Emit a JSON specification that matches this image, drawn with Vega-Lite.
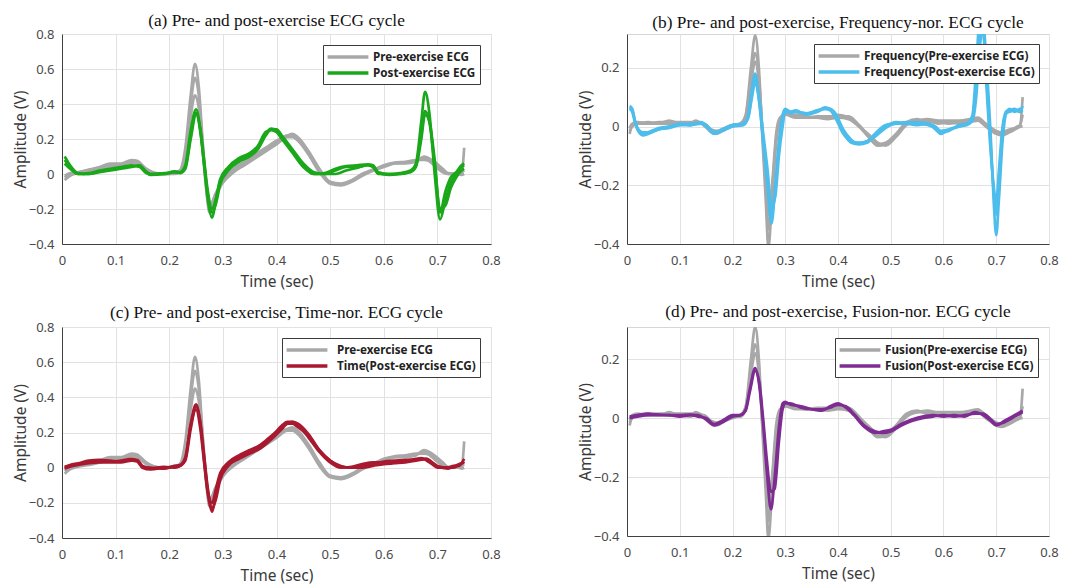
{
"$schema": "https://vega.github.io/schema/vega-lite/v6.json",
"background": "white",
"padding": {"left": 12, "top": 11, "right": 5, "bottom": 0},
"config": {
  "view": {"stroke": "#d6d6d6"},
  "axis": {"labelFont": "Noto Sans", "labelFontSize": 13, "labelColor": "#4a4a4a", "titleFont": "Noto Sans", "titleFontSize": 15.5, "titleFontWeight": "normal", "titleColor": "#3a3a3a", "gridColor": "#e2e2e2", "domainColor": "#404040", "ticks": false, "labelFlush": false},
  "axisX": {"labelPadding": 10, "titlePadding": 7},
  "axisY": {"labelPadding": 8, "titlePadding": 0},
  "title": {"font": "Liberation Serif", "fontSize": 17.3, "fontWeight": "normal", "color": "#111111", "anchor": "middle", "frame": "group", "offset": 0.5},
  "legend": {"orient": "top-right", "offset": 11, "fillColor": "white", "strokeColor": "#3a3a3a", "padding": 4, "rowPadding": 1, "symbolType": "M-3.4,0H3.4", "symbolSize": 144, "symbolStrokeWidth": 3.5, "symbolOffset": 13, "labelOffset": 17, "labelFont": "Noto Sans", "labelFontWeight": "bold", "labelFontSize": 11.7, "labelColor": "#222222", "labelLimit": 400}
},
"datasets": {
"preAC": [
{"k":1,"t":0.005,"v":-0.035},{"k":1,"t":0.015,"v":-0.01},{"k":1,"t":0.03,"v":0.005},{"k":1,"t":0.05,"v":0.015},{"k":1,"t":0.07,"v":0.03},{"k":1,"t":0.09,"v":0.05},{"k":1,"t":0.11,"v":0.055},{"k":1,"t":0.13,"v":0.075},{"k":1,"t":0.14,"v":0.07},{"k":1,"t":0.155,"v":0.03},
{"k":1,"t":0.17,"v":0.005},{"k":1,"t":0.19,"v":0.0},{"k":1,"t":0.21,"v":0.005},{"k":1,"t":0.22,"v":0.02},{"k":1,"t":0.23,"v":0.15},{"k":1,"t":0.24,"v":0.45},{"k":1,"t":0.248,"v":0.63},{"k":1,"t":0.255,"v":0.5},{"k":1,"t":0.262,"v":0.2},{"k":1,"t":0.27,"v":-0.1},
{"k":1,"t":0.275,"v":-0.2},{"k":1,"t":0.285,"v":-0.12},{"k":1,"t":0.3,"v":-0.04},{"k":1,"t":0.32,"v":0.02},{"k":1,"t":0.34,"v":0.06},{"k":1,"t":0.36,"v":0.1},{"k":1,"t":0.38,"v":0.14},{"k":1,"t":0.4,"v":0.18},{"k":1,"t":0.42,"v":0.22},{"k":1,"t":0.43,"v":0.22},
{"k":1,"t":0.44,"v":0.2},{"k":1,"t":0.46,"v":0.12},{"k":1,"t":0.48,"v":0.02},{"k":1,"t":0.5,"v":-0.05},{"k":1,"t":0.52,"v":-0.06},{"k":1,"t":0.54,"v":-0.04},{"k":1,"t":0.56,"v":0.0},{"k":1,"t":0.58,"v":0.02},{"k":1,"t":0.6,"v":0.04},{"k":1,"t":0.62,"v":0.06},
{"k":1,"t":0.64,"v":0.065},{"k":1,"t":0.66,"v":0.075},{"k":1,"t":0.675,"v":0.09},{"k":1,"t":0.69,"v":0.06},{"k":1,"t":0.71,"v":0.01},{"k":1,"t":0.72,"v":0.0},{"k":1,"t":0.74,"v":0.0},{"k":1,"t":0.745,"v":0.0},{"k":1,"t":0.75,"v":0.15},
{"k":2,"t":0.005,"v":-0.02},{"k":2,"t":0.015,"v":0.0},{"k":2,"t":0.03,"v":0.01},{"k":2,"t":0.05,"v":0.02},{"k":2,"t":0.07,"v":0.03},{"k":2,"t":0.09,"v":0.04},{"k":2,"t":0.11,"v":0.05},{"k":2,"t":0.13,"v":0.065},{"k":2,"t":0.14,"v":0.06},{"k":2,"t":0.155,"v":0.025},
{"k":2,"t":0.17,"v":0.0},{"k":2,"t":0.19,"v":0.0},{"k":2,"t":0.21,"v":0.01},{"k":2,"t":0.22,"v":0.02},{"k":2,"t":0.23,"v":0.12},{"k":2,"t":0.24,"v":0.4},{"k":2,"t":0.248,"v":0.55},{"k":2,"t":0.255,"v":0.45},{"k":2,"t":0.262,"v":0.18},{"k":2,"t":0.27,"v":-0.08},
{"k":2,"t":0.275,"v":-0.18},{"k":2,"t":0.285,"v":-0.13},{"k":2,"t":0.3,"v":-0.05},{"k":2,"t":0.32,"v":0.01},{"k":2,"t":0.34,"v":0.05},{"k":2,"t":0.36,"v":0.09},{"k":2,"t":0.38,"v":0.13},{"k":2,"t":0.4,"v":0.17},{"k":2,"t":0.42,"v":0.21},{"k":2,"t":0.43,"v":0.21},
{"k":2,"t":0.44,"v":0.19},{"k":2,"t":0.46,"v":0.11},{"k":2,"t":0.48,"v":0.01},{"k":2,"t":0.5,"v":-0.055},{"k":2,"t":0.52,"v":-0.065},{"k":2,"t":0.54,"v":-0.045},{"k":2,"t":0.56,"v":-0.01},{"k":2,"t":0.58,"v":0.02},{"k":2,"t":0.6,"v":0.05},{"k":2,"t":0.62,"v":0.065},
{"k":2,"t":0.64,"v":0.07},{"k":2,"t":0.66,"v":0.08},{"k":2,"t":0.675,"v":0.08},{"k":2,"t":0.69,"v":0.07},{"k":2,"t":0.71,"v":0.02},{"k":2,"t":0.72,"v":0.0},{"k":2,"t":0.74,"v":0.005},{"k":2,"t":0.745,"v":0.01},{"k":2,"t":0.75,"v":0.02},
{"k":3,"t":0.005,"v":-0.01},{"k":3,"t":0.015,"v":0.005},{"k":3,"t":0.03,"v":0.01},{"k":3,"t":0.05,"v":0.025},{"k":3,"t":0.07,"v":0.04},{"k":3,"t":0.09,"v":0.06},{"k":3,"t":0.11,"v":0.06},{"k":3,"t":0.13,"v":0.08},{"k":3,"t":0.14,"v":0.075},{"k":3,"t":0.155,"v":0.035},
{"k":3,"t":0.17,"v":0.01},{"k":3,"t":0.19,"v":0.0},{"k":3,"t":0.21,"v":0.0},{"k":3,"t":0.22,"v":0.015},{"k":3,"t":0.23,"v":0.1},{"k":3,"t":0.24,"v":0.33},{"k":3,"t":0.248,"v":0.45},{"k":3,"t":0.255,"v":0.38},{"k":3,"t":0.262,"v":0.15},{"k":3,"t":0.27,"v":-0.12},
{"k":3,"t":0.275,"v":-0.22},{"k":3,"t":0.285,"v":-0.15},{"k":3,"t":0.3,"v":-0.03},{"k":3,"t":0.32,"v":0.03},{"k":3,"t":0.34,"v":0.07},{"k":3,"t":0.36,"v":0.11},{"k":3,"t":0.38,"v":0.15},{"k":3,"t":0.4,"v":0.19},{"k":3,"t":0.42,"v":0.22},{"k":3,"t":0.43,"v":0.23},
{"k":3,"t":0.44,"v":0.21},{"k":3,"t":0.46,"v":0.13},{"k":3,"t":0.48,"v":0.03},{"k":3,"t":0.5,"v":-0.045},{"k":3,"t":0.52,"v":-0.055},{"k":3,"t":0.54,"v":-0.035},{"k":3,"t":0.56,"v":0.0},{"k":3,"t":0.58,"v":0.025},{"k":3,"t":0.6,"v":0.045},{"k":3,"t":0.62,"v":0.06},
{"k":3,"t":0.64,"v":0.06},{"k":3,"t":0.66,"v":0.07},{"k":3,"t":0.675,"v":0.1},{"k":3,"t":0.69,"v":0.08},{"k":3,"t":0.71,"v":0.03},{"k":3,"t":0.72,"v":0.005},{"k":3,"t":0.74,"v":0.0},{"k":3,"t":0.745,"v":-0.005},{"k":3,"t":0.75,"v":0.0}
],
"postA": [
{"k":1,"t":0.005,"v":0.1},{"k":1,"t":0.015,"v":0.05},{"k":1,"t":0.03,"v":0.005},{"k":1,"t":0.05,"v":0.0},{"k":1,"t":0.07,"v":0.01},{"k":1,"t":0.09,"v":0.02},{"k":1,"t":0.11,"v":0.03},{"k":1,"t":0.13,"v":0.04},{"k":1,"t":0.145,"v":0.05},{"k":1,"t":0.155,"v":0.02},
{"k":1,"t":0.165,"v":0.0},{"k":1,"t":0.19,"v":0.0},{"k":1,"t":0.21,"v":0.01},{"k":1,"t":0.22,"v":0.01},{"k":1,"t":0.23,"v":0.05},{"k":1,"t":0.24,"v":0.25},{"k":1,"t":0.25,"v":0.37},{"k":1,"t":0.258,"v":0.25},{"k":1,"t":0.265,"v":0.05},{"k":1,"t":0.272,"v":-0.15},
{"k":1,"t":0.28,"v":-0.25},{"k":1,"t":0.287,"v":-0.15},{"k":1,"t":0.295,"v":-0.04},{"k":1,"t":0.31,"v":0.03},{"k":1,"t":0.33,"v":0.08},{"k":1,"t":0.35,"v":0.11},{"k":1,"t":0.365,"v":0.15},{"k":1,"t":0.38,"v":0.23},{"k":1,"t":0.39,"v":0.26},{"k":1,"t":0.4,"v":0.25},
{"k":1,"t":0.41,"v":0.21},{"k":1,"t":0.43,"v":0.13},{"k":1,"t":0.45,"v":0.05},{"k":1,"t":0.47,"v":0.0},{"k":1,"t":0.49,"v":0.0},{"k":1,"t":0.51,"v":0.02},{"k":1,"t":0.53,"v":0.04},{"k":1,"t":0.55,"v":0.04},{"k":1,"t":0.57,"v":0.05},{"k":1,"t":0.58,"v":0.04},
{"k":1,"t":0.59,"v":0.0},{"k":1,"t":0.61,"v":0.0},{"k":1,"t":0.63,"v":0.005},{"k":1,"t":0.65,"v":0.02},{"k":1,"t":0.66,"v":0.06},{"k":1,"t":0.67,"v":0.3},{"k":1,"t":0.677,"v":0.47},{"k":1,"t":0.685,"v":0.35},{"k":1,"t":0.695,"v":0.0},{"k":1,"t":0.705,"v":-0.26},
{"k":1,"t":0.715,"v":-0.15},{"k":1,"t":0.725,"v":-0.05},{"k":1,"t":0.735,"v":0.0},{"k":1,"t":0.745,"v":0.04},{"k":1,"t":0.75,"v":0.05},
{"k":2,"t":0.005,"v":0.08},{"k":2,"t":0.015,"v":0.04},{"k":2,"t":0.03,"v":0.0},{"k":2,"t":0.05,"v":0.0},{"k":2,"t":0.07,"v":0.015},{"k":2,"t":0.09,"v":0.025},{"k":2,"t":0.11,"v":0.035},{"k":2,"t":0.13,"v":0.045},{"k":2,"t":0.145,"v":0.045},{"k":2,"t":0.155,"v":0.015},
{"k":2,"t":0.165,"v":-0.005},{"k":2,"t":0.19,"v":0.0},{"k":2,"t":0.21,"v":0.015},{"k":2,"t":0.22,"v":0.01},{"k":2,"t":0.23,"v":0.04},{"k":2,"t":0.24,"v":0.22},{"k":2,"t":0.25,"v":0.35},{"k":2,"t":0.258,"v":0.24},{"k":2,"t":0.265,"v":0.06},{"k":2,"t":0.272,"v":-0.12},
{"k":2,"t":0.28,"v":-0.22},{"k":2,"t":0.287,"v":-0.17},{"k":2,"t":0.295,"v":-0.06},{"k":2,"t":0.31,"v":0.02},{"k":2,"t":0.33,"v":0.07},{"k":2,"t":0.35,"v":0.1},{"k":2,"t":0.365,"v":0.14},{"k":2,"t":0.38,"v":0.22},{"k":2,"t":0.39,"v":0.255},{"k":2,"t":0.4,"v":0.255},
{"k":2,"t":0.41,"v":0.22},{"k":2,"t":0.43,"v":0.14},{"k":2,"t":0.45,"v":0.06},{"k":2,"t":0.47,"v":0.01},{"k":2,"t":0.49,"v":0.0},{"k":2,"t":0.51,"v":0.0},{"k":2,"t":0.53,"v":0.02},{"k":2,"t":0.55,"v":0.035},{"k":2,"t":0.57,"v":0.05},{"k":2,"t":0.58,"v":0.045},
{"k":2,"t":0.59,"v":0.01},{"k":2,"t":0.61,"v":0.0},{"k":2,"t":0.63,"v":0.0},{"k":2,"t":0.65,"v":0.015},{"k":2,"t":0.66,"v":0.05},{"k":2,"t":0.67,"v":0.22},{"k":2,"t":0.677,"v":0.36},{"k":2,"t":0.685,"v":0.3},{"k":2,"t":0.695,"v":0.05},{"k":2,"t":0.705,"v":-0.2},
{"k":2,"t":0.715,"v":-0.18},{"k":2,"t":0.725,"v":-0.08},{"k":2,"t":0.735,"v":-0.02},{"k":2,"t":0.745,"v":0.02},{"k":2,"t":0.75,"v":0.03},
{"k":3,"t":0.005,"v":0.06},{"k":3,"t":0.015,"v":0.03},{"k":3,"t":0.03,"v":0.0},{"k":3,"t":0.05,"v":0.005},{"k":3,"t":0.07,"v":0.02},{"k":3,"t":0.09,"v":0.03},{"k":3,"t":0.11,"v":0.04},{"k":3,"t":0.13,"v":0.05},{"k":3,"t":0.145,"v":0.04},{"k":3,"t":0.155,"v":0.01},
{"k":3,"t":0.165,"v":0.0},{"k":3,"t":0.19,"v":0.005},{"k":3,"t":0.21,"v":0.01},{"k":3,"t":0.22,"v":0.005},{"k":3,"t":0.23,"v":0.03},{"k":3,"t":0.24,"v":0.2},{"k":3,"t":0.25,"v":0.34},{"k":3,"t":0.258,"v":0.26},{"k":3,"t":0.265,"v":0.08},{"k":3,"t":0.272,"v":-0.1},
{"k":3,"t":0.28,"v":-0.2},{"k":3,"t":0.287,"v":-0.14},{"k":3,"t":0.295,"v":-0.03},{"k":3,"t":0.31,"v":0.04},{"k":3,"t":0.33,"v":0.09},{"k":3,"t":0.35,"v":0.12},{"k":3,"t":0.365,"v":0.16},{"k":3,"t":0.38,"v":0.24},{"k":3,"t":0.39,"v":0.25},{"k":3,"t":0.4,"v":0.24},
{"k":3,"t":0.41,"v":0.2},{"k":3,"t":0.43,"v":0.12},{"k":3,"t":0.45,"v":0.04},{"k":3,"t":0.47,"v":0.0},{"k":3,"t":0.49,"v":0.005},{"k":3,"t":0.51,"v":0.03},{"k":3,"t":0.53,"v":0.045},{"k":3,"t":0.55,"v":0.05},{"k":3,"t":0.57,"v":0.055},{"k":3,"t":0.58,"v":0.05},
{"k":3,"t":0.59,"v":0.005},{"k":3,"t":0.61,"v":-0.005},{"k":3,"t":0.63,"v":0.0},{"k":3,"t":0.65,"v":0.01},{"k":3,"t":0.66,"v":0.04},{"k":3,"t":0.67,"v":0.2},{"k":3,"t":0.677,"v":0.34},{"k":3,"t":0.685,"v":0.3},{"k":3,"t":0.695,"v":0.08},{"k":3,"t":0.705,"v":-0.22},
{"k":3,"t":0.715,"v":-0.1},{"k":3,"t":0.725,"v":-0.02},{"k":3,"t":0.735,"v":0.01},{"k":3,"t":0.745,"v":0.05},{"k":3,"t":0.75,"v":0.06}
],
"postC": [
{"k":1,"t":0.005,"v":0.0},{"k":1,"t":0.015,"v":0.01},{"k":1,"t":0.03,"v":0.02},{"k":1,"t":0.05,"v":0.03},{"k":1,"t":0.07,"v":0.04},{"k":1,"t":0.09,"v":0.035},{"k":1,"t":0.11,"v":0.04},{"k":1,"t":0.13,"v":0.05},{"k":1,"t":0.14,"v":0.04},{"k":1,"t":0.15,"v":0.0},
{"k":1,"t":0.165,"v":-0.01},{"k":1,"t":0.19,"v":0.0},{"k":1,"t":0.21,"v":0.005},{"k":1,"t":0.22,"v":0.01},{"k":1,"t":0.23,"v":0.05},{"k":1,"t":0.24,"v":0.25},{"k":1,"t":0.25,"v":0.36},{"k":1,"t":0.258,"v":0.25},{"k":1,"t":0.265,"v":0.05},{"k":1,"t":0.272,"v":-0.15},
{"k":1,"t":0.28,"v":-0.25},{"k":1,"t":0.287,"v":-0.15},{"k":1,"t":0.295,"v":-0.05},{"k":1,"t":0.31,"v":0.02},{"k":1,"t":0.33,"v":0.06},{"k":1,"t":0.35,"v":0.09},{"k":1,"t":0.37,"v":0.12},{"k":1,"t":0.39,"v":0.17},{"k":1,"t":0.41,"v":0.24},{"k":1,"t":0.42,"v":0.26},
{"k":1,"t":0.43,"v":0.26},{"k":1,"t":0.44,"v":0.24},{"k":1,"t":0.46,"v":0.17},{"k":1,"t":0.48,"v":0.09},{"k":1,"t":0.5,"v":0.03},{"k":1,"t":0.52,"v":0.0},{"k":1,"t":0.54,"v":0.005},{"k":1,"t":0.56,"v":0.02},{"k":1,"t":0.58,"v":0.03},{"k":1,"t":0.6,"v":0.03},
{"k":1,"t":0.62,"v":0.035},{"k":1,"t":0.64,"v":0.04},{"k":1,"t":0.66,"v":0.05},{"k":1,"t":0.67,"v":0.055},{"k":1,"t":0.68,"v":0.04},{"k":1,"t":0.69,"v":0.02},{"k":1,"t":0.7,"v":0.0},{"k":1,"t":0.72,"v":0.0},{"k":1,"t":0.73,"v":0.01},{"k":1,"t":0.74,"v":0.01},
{"k":1,"t":0.75,"v":0.05},
{"k":2,"t":0.005,"v":0.005},{"k":2,"t":0.015,"v":0.015},{"k":2,"t":0.03,"v":0.025},{"k":2,"t":0.05,"v":0.04},{"k":2,"t":0.07,"v":0.045},{"k":2,"t":0.09,"v":0.04},{"k":2,"t":0.11,"v":0.035},{"k":2,"t":0.13,"v":0.045},{"k":2,"t":0.14,"v":0.045},{"k":2,"t":0.15,"v":0.01},
{"k":2,"t":0.165,"v":-0.005},{"k":2,"t":0.19,"v":0.005},{"k":2,"t":0.21,"v":0.0},{"k":2,"t":0.22,"v":0.01},{"k":2,"t":0.23,"v":0.04},{"k":2,"t":0.24,"v":0.22},{"k":2,"t":0.25,"v":0.35},{"k":2,"t":0.258,"v":0.26},{"k":2,"t":0.265,"v":0.07},{"k":2,"t":0.272,"v":-0.12},
{"k":2,"t":0.28,"v":-0.23},{"k":2,"t":0.287,"v":-0.18},{"k":2,"t":0.295,"v":-0.07},{"k":2,"t":0.31,"v":0.01},{"k":2,"t":0.33,"v":0.05},{"k":2,"t":0.35,"v":0.08},{"k":2,"t":0.37,"v":0.11},{"k":2,"t":0.39,"v":0.16},{"k":2,"t":0.41,"v":0.22},{"k":2,"t":0.42,"v":0.25},
{"k":2,"t":0.43,"v":0.25},{"k":2,"t":0.44,"v":0.23},{"k":2,"t":0.46,"v":0.18},{"k":2,"t":0.48,"v":0.1},{"k":2,"t":0.5,"v":0.04},{"k":2,"t":0.52,"v":0.005},{"k":2,"t":0.54,"v":0.0},{"k":2,"t":0.56,"v":0.01},{"k":2,"t":0.58,"v":0.02},{"k":2,"t":0.6,"v":0.035},
{"k":2,"t":0.62,"v":0.04},{"k":2,"t":0.64,"v":0.045},{"k":2,"t":0.66,"v":0.045},{"k":2,"t":0.67,"v":0.05},{"k":2,"t":0.68,"v":0.05},{"k":2,"t":0.69,"v":0.03},{"k":2,"t":0.7,"v":0.005},{"k":2,"t":0.72,"v":-0.005},{"k":2,"t":0.73,"v":0.005},{"k":2,"t":0.74,"v":0.02},
{"k":2,"t":0.75,"v":0.03},
{"k":3,"t":0.005,"v":-0.005},{"k":3,"t":0.015,"v":0.005},{"k":3,"t":0.03,"v":0.015},{"k":3,"t":0.05,"v":0.025},{"k":3,"t":0.07,"v":0.03},{"k":3,"t":0.09,"v":0.03},{"k":3,"t":0.11,"v":0.03},{"k":3,"t":0.13,"v":0.04},{"k":3,"t":0.14,"v":0.035},{"k":3,"t":0.15,"v":0.005},
{"k":3,"t":0.165,"v":0.0},{"k":3,"t":0.19,"v":-0.005},{"k":3,"t":0.21,"v":0.01},{"k":3,"t":0.22,"v":0.015},{"k":3,"t":0.23,"v":0.06},{"k":3,"t":0.24,"v":0.24},{"k":3,"t":0.25,"v":0.33},{"k":3,"t":0.258,"v":0.22},{"k":3,"t":0.265,"v":0.03},{"k":3,"t":0.272,"v":-0.14},
{"k":3,"t":0.28,"v":-0.2},{"k":3,"t":0.287,"v":-0.12},{"k":3,"t":0.295,"v":-0.03},{"k":3,"t":0.31,"v":0.03},{"k":3,"t":0.33,"v":0.07},{"k":3,"t":0.35,"v":0.1},{"k":3,"t":0.37,"v":0.13},{"k":3,"t":0.39,"v":0.18},{"k":3,"t":0.41,"v":0.23},{"k":3,"t":0.42,"v":0.25},
{"k":3,"t":0.43,"v":0.26},{"k":3,"t":0.44,"v":0.25},{"k":3,"t":0.46,"v":0.19},{"k":3,"t":0.48,"v":0.1},{"k":3,"t":0.5,"v":0.04},{"k":3,"t":0.52,"v":0.01},{"k":3,"t":0.54,"v":0.0},{"k":3,"t":0.56,"v":0.0},{"k":3,"t":0.58,"v":0.01},{"k":3,"t":0.6,"v":0.02},
{"k":3,"t":0.62,"v":0.025},{"k":3,"t":0.64,"v":0.03},{"k":3,"t":0.66,"v":0.04},{"k":3,"t":0.67,"v":0.045},{"k":3,"t":0.68,"v":0.05},{"k":3,"t":0.69,"v":0.03},{"k":3,"t":0.7,"v":0.01},{"k":3,"t":0.72,"v":0.0},{"k":3,"t":0.73,"v":0.0},{"k":3,"t":0.74,"v":0.015},
{"k":3,"t":0.75,"v":0.035}
],
"preBD": [
{"k":1,"t":0.005,"v":-0.025},{"k":1,"t":0.01,"v":0.005},{"k":1,"t":0.02,"v":0.01},{"k":1,"t":0.04,"v":0.015},{"k":1,"t":0.06,"v":0.01},{"k":1,"t":0.08,"v":0.02},{"k":1,"t":0.1,"v":0.01},{"k":1,"t":0.12,"v":0.01},{"k":1,"t":0.13,"v":0.02},{"k":1,"t":0.145,"v":0.005},
{"k":1,"t":0.16,"v":-0.02},{"k":1,"t":0.17,"v":-0.025},{"k":1,"t":0.185,"v":-0.01},{"k":1,"t":0.2,"v":0.005},{"k":1,"t":0.215,"v":0.01},{"k":1,"t":0.225,"v":0.04},{"k":1,"t":0.235,"v":0.2},{"k":1,"t":0.243,"v":0.31},{"k":1,"t":0.25,"v":0.2},{"k":1,"t":0.257,"v":-0.05},
{"k":1,"t":0.263,"v":-0.25},{"k":1,"t":0.268,"v":-0.41},{"k":1,"t":0.275,"v":-0.25},{"k":1,"t":0.283,"v":-0.05},{"k":1,"t":0.29,"v":0.02},{"k":1,"t":0.3,"v":0.04},{"k":1,"t":0.32,"v":0.04},{"k":1,"t":0.34,"v":0.035},{"k":1,"t":0.36,"v":0.03},{"k":1,"t":0.38,"v":0.03},
{"k":1,"t":0.4,"v":0.04},{"k":1,"t":0.42,"v":0.03},{"k":1,"t":0.44,"v":0.0},{"k":1,"t":0.46,"v":-0.04},{"k":1,"t":0.475,"v":-0.065},{"k":1,"t":0.49,"v":-0.06},{"k":1,"t":0.51,"v":-0.03},{"k":1,"t":0.53,"v":0.01},{"k":1,"t":0.55,"v":0.02},{"k":1,"t":0.57,"v":0.02},
{"k":1,"t":0.59,"v":0.01},{"k":1,"t":0.61,"v":0.015},{"k":1,"t":0.63,"v":0.01},{"k":1,"t":0.65,"v":0.015},{"k":1,"t":0.665,"v":0.02},{"k":1,"t":0.68,"v":0.0},{"k":1,"t":0.7,"v":-0.025},{"k":1,"t":0.71,"v":-0.03},{"k":1,"t":0.725,"v":-0.02},{"k":1,"t":0.74,"v":-0.005},
{"k":1,"t":0.745,"v":0.0},{"k":1,"t":0.75,"v":0.1},
{"k":2,"t":0.005,"v":-0.015},{"k":2,"t":0.01,"v":0.0},{"k":2,"t":0.02,"v":0.01},{"k":2,"t":0.04,"v":0.01},{"k":2,"t":0.06,"v":0.015},{"k":2,"t":0.08,"v":0.015},{"k":2,"t":0.1,"v":0.015},{"k":2,"t":0.12,"v":0.015},{"k":2,"t":0.13,"v":0.015},{"k":2,"t":0.145,"v":0.01},
{"k":2,"t":0.16,"v":-0.015},{"k":2,"t":0.17,"v":-0.02},{"k":2,"t":0.185,"v":-0.01},{"k":2,"t":0.2,"v":0.0},{"k":2,"t":0.215,"v":0.01},{"k":2,"t":0.225,"v":0.035},{"k":2,"t":0.235,"v":0.17},{"k":2,"t":0.243,"v":0.25},{"k":2,"t":0.25,"v":0.17},{"k":2,"t":0.257,"v":-0.03},
{"k":2,"t":0.263,"v":-0.2},{"k":2,"t":0.268,"v":-0.35},{"k":2,"t":0.275,"v":-0.22},{"k":2,"t":0.283,"v":-0.04},{"k":2,"t":0.29,"v":0.025},{"k":2,"t":0.3,"v":0.045},{"k":2,"t":0.32,"v":0.035},{"k":2,"t":0.34,"v":0.03},{"k":2,"t":0.36,"v":0.035},{"k":2,"t":0.38,"v":0.035},
{"k":2,"t":0.4,"v":0.035},{"k":2,"t":0.42,"v":0.035},{"k":2,"t":0.44,"v":0.005},{"k":2,"t":0.46,"v":-0.035},{"k":2,"t":0.475,"v":-0.06},{"k":2,"t":0.49,"v":-0.055},{"k":2,"t":0.51,"v":-0.025},{"k":2,"t":0.53,"v":0.015},{"k":2,"t":0.55,"v":0.025},{"k":2,"t":0.57,"v":0.015},
{"k":2,"t":0.59,"v":0.015},{"k":2,"t":0.61,"v":0.01},{"k":2,"t":0.63,"v":0.015},{"k":2,"t":0.65,"v":0.02},{"k":2,"t":0.665,"v":0.025},{"k":2,"t":0.68,"v":0.005},{"k":2,"t":0.7,"v":-0.02},{"k":2,"t":0.71,"v":-0.025},{"k":2,"t":0.725,"v":-0.015},{"k":2,"t":0.74,"v":0.0},
{"k":2,"t":0.745,"v":0.005},{"k":2,"t":0.75,"v":0.04},
{"k":3,"t":0.005,"v":-0.005},{"k":3,"t":0.01,"v":0.01},{"k":3,"t":0.02,"v":0.015},{"k":3,"t":0.04,"v":0.01},{"k":3,"t":0.06,"v":0.01},{"k":3,"t":0.08,"v":0.01},{"k":3,"t":0.1,"v":0.01},{"k":3,"t":0.12,"v":0.005},{"k":3,"t":0.13,"v":0.01},{"k":3,"t":0.145,"v":0.01},
{"k":3,"t":0.16,"v":-0.01},{"k":3,"t":0.17,"v":-0.015},{"k":3,"t":0.185,"v":-0.005},{"k":3,"t":0.2,"v":0.005},{"k":3,"t":0.215,"v":0.005},{"k":3,"t":0.225,"v":0.03},{"k":3,"t":0.235,"v":0.15},{"k":3,"t":0.243,"v":0.22},{"k":3,"t":0.25,"v":0.15},{"k":3,"t":0.257,"v":-0.02},
{"k":3,"t":0.263,"v":-0.17},{"k":3,"t":0.268,"v":-0.3},{"k":3,"t":0.275,"v":-0.2},{"k":3,"t":0.283,"v":-0.02},{"k":3,"t":0.29,"v":0.03},{"k":3,"t":0.3,"v":0.04},{"k":3,"t":0.32,"v":0.03},{"k":3,"t":0.34,"v":0.03},{"k":3,"t":0.36,"v":0.03},{"k":3,"t":0.38,"v":0.025},
{"k":3,"t":0.4,"v":0.03},{"k":3,"t":0.42,"v":0.025},{"k":3,"t":0.44,"v":0.0},{"k":3,"t":0.46,"v":-0.03},{"k":3,"t":0.475,"v":-0.055},{"k":3,"t":0.49,"v":-0.065},{"k":3,"t":0.51,"v":-0.035},{"k":3,"t":0.53,"v":0.005},{"k":3,"t":0.55,"v":0.02},{"k":3,"t":0.57,"v":0.025},
{"k":3,"t":0.59,"v":0.02},{"k":3,"t":0.61,"v":0.02},{"k":3,"t":0.63,"v":0.02},{"k":3,"t":0.65,"v":0.025},{"k":3,"t":0.665,"v":0.03},{"k":3,"t":0.68,"v":0.01},{"k":3,"t":0.7,"v":-0.015},{"k":3,"t":0.71,"v":-0.02},{"k":3,"t":0.725,"v":-0.01},{"k":3,"t":0.74,"v":-0.005},
{"k":3,"t":0.745,"v":0.0},{"k":3,"t":0.75,"v":0.0}
],
"postB": [
{"k":1,"t":0.005,"v":0.07},{"k":1,"t":0.01,"v":0.06},{"k":1,"t":0.015,"v":0.02},{"k":1,"t":0.02,"v":-0.01},{"k":1,"t":0.03,"v":-0.03},{"k":1,"t":0.04,"v":-0.025},{"k":1,"t":0.06,"v":-0.01},{"k":1,"t":0.08,"v":0.0},{"k":1,"t":0.1,"v":0.005},{"k":1,"t":0.12,"v":0.005},
{"k":1,"t":0.14,"v":0.01},{"k":1,"t":0.15,"v":0.0},{"k":1,"t":0.165,"v":-0.025},{"k":1,"t":0.18,"v":-0.015},{"k":1,"t":0.2,"v":0.005},{"k":1,"t":0.22,"v":0.005},{"k":1,"t":0.23,"v":0.04},{"k":1,"t":0.236,"v":0.12},{"k":1,"t":0.243,"v":0.18},{"k":1,"t":0.25,"v":0.1},
{"k":1,"t":0.258,"v":-0.05},{"k":1,"t":0.266,"v":-0.2},{"k":1,"t":0.274,"v":-0.33},{"k":1,"t":0.281,"v":-0.2},{"k":1,"t":0.288,"v":-0.05},{"k":1,"t":0.295,"v":0.04},{"k":1,"t":0.3,"v":0.06},{"k":1,"t":0.31,"v":0.05},{"k":1,"t":0.32,"v":0.055},{"k":1,"t":0.34,"v":0.04},
{"k":1,"t":0.36,"v":0.05},{"k":1,"t":0.375,"v":0.065},{"k":1,"t":0.385,"v":0.06},{"k":1,"t":0.395,"v":0.04},{"k":1,"t":0.41,"v":-0.02},{"k":1,"t":0.425,"v":-0.055},{"k":1,"t":0.44,"v":-0.06},{"k":1,"t":0.455,"v":-0.055},{"k":1,"t":0.47,"v":-0.03},{"k":1,"t":0.49,"v":0.0},
{"k":1,"t":0.51,"v":0.015},{"k":1,"t":0.53,"v":0.01},{"k":1,"t":0.55,"v":0.005},{"k":1,"t":0.57,"v":0.01},{"k":1,"t":0.585,"v":-0.01},{"k":1,"t":0.595,"v":-0.025},{"k":1,"t":0.61,"v":-0.01},{"k":1,"t":0.63,"v":0.0},{"k":1,"t":0.645,"v":0.005},{"k":1,"t":0.655,"v":0.02},
{"k":1,"t":0.662,"v":0.1},{"k":1,"t":0.668,"v":0.25},{"k":1,"t":0.675,"v":0.35},{"k":1,"t":0.682,"v":0.2},{"k":1,"t":0.69,"v":-0.05},{"k":1,"t":0.695,"v":-0.25},{"k":1,"t":0.7,"v":-0.37},{"k":1,"t":0.705,"v":-0.25},{"k":1,"t":0.712,"v":-0.05},{"k":1,"t":0.718,"v":0.04},
{"k":1,"t":0.725,"v":0.06},{"k":1,"t":0.735,"v":0.05},{"k":1,"t":0.745,"v":0.06},{"k":1,"t":0.75,"v":0.06},
{"k":2,"t":0.005,"v":0.06},{"k":2,"t":0.01,"v":0.05},{"k":2,"t":0.015,"v":0.015},{"k":2,"t":0.02,"v":-0.01},{"k":2,"t":0.03,"v":-0.025},{"k":2,"t":0.04,"v":-0.02},{"k":2,"t":0.06,"v":-0.005},{"k":2,"t":0.08,"v":0.0},{"k":2,"t":0.1,"v":0.01},{"k":2,"t":0.12,"v":0.005},
{"k":2,"t":0.14,"v":0.015},{"k":2,"t":0.15,"v":0.005},{"k":2,"t":0.165,"v":-0.02},{"k":2,"t":0.18,"v":-0.01},{"k":2,"t":0.2,"v":0.005},{"k":2,"t":0.22,"v":0.01},{"k":2,"t":0.23,"v":0.035},{"k":2,"t":0.236,"v":0.1},{"k":2,"t":0.243,"v":0.16},{"k":2,"t":0.25,"v":0.09},
{"k":2,"t":0.258,"v":-0.04},{"k":2,"t":0.266,"v":-0.17},{"k":2,"t":0.274,"v":-0.3},{"k":2,"t":0.281,"v":-0.22},{"k":2,"t":0.288,"v":-0.07},{"k":2,"t":0.295,"v":0.03},{"k":2,"t":0.3,"v":0.055},{"k":2,"t":0.31,"v":0.045},{"k":2,"t":0.32,"v":0.05},{"k":2,"t":0.34,"v":0.045},
{"k":2,"t":0.36,"v":0.055},{"k":2,"t":0.375,"v":0.06},{"k":2,"t":0.385,"v":0.055},{"k":2,"t":0.395,"v":0.03},{"k":2,"t":0.41,"v":-0.025},{"k":2,"t":0.425,"v":-0.05},{"k":2,"t":0.44,"v":-0.055},{"k":2,"t":0.455,"v":-0.05},{"k":2,"t":0.47,"v":-0.025},{"k":2,"t":0.49,"v":0.005},
{"k":2,"t":0.51,"v":0.01},{"k":2,"t":0.53,"v":0.015},{"k":2,"t":0.55,"v":0.01},{"k":2,"t":0.57,"v":0.005},{"k":2,"t":0.585,"v":-0.005},{"k":2,"t":0.595,"v":-0.02},{"k":2,"t":0.61,"v":-0.015},{"k":2,"t":0.63,"v":0.005},{"k":2,"t":0.645,"v":0.01},{"k":2,"t":0.655,"v":0.03},
{"k":2,"t":0.662,"v":0.15},{"k":2,"t":0.668,"v":0.3},{"k":2,"t":0.675,"v":0.32},{"k":2,"t":0.682,"v":0.15},{"k":2,"t":0.69,"v":-0.08},{"k":2,"t":0.695,"v":-0.22},{"k":2,"t":0.7,"v":-0.3},{"k":2,"t":0.705,"v":-0.2},{"k":2,"t":0.712,"v":-0.02},{"k":2,"t":0.718,"v":0.05},
{"k":2,"t":0.725,"v":0.055},{"k":2,"t":0.735,"v":0.06},{"k":2,"t":0.745,"v":0.05},{"k":2,"t":0.75,"v":0.07},
{"k":3,"t":0.005,"v":0.065},{"k":3,"t":0.01,"v":0.055},{"k":3,"t":0.015,"v":0.02},{"k":3,"t":0.02,"v":-0.005},{"k":3,"t":0.03,"v":-0.02},{"k":3,"t":0.04,"v":-0.02},{"k":3,"t":0.06,"v":-0.01},{"k":3,"t":0.08,"v":-0.005},{"k":3,"t":0.1,"v":0.005},{"k":3,"t":0.12,"v":0.01},
{"k":3,"t":0.14,"v":0.01},{"k":3,"t":0.15,"v":0.005},{"k":3,"t":0.165,"v":-0.02},{"k":3,"t":0.18,"v":-0.015},{"k":3,"t":0.2,"v":0.0},{"k":3,"t":0.22,"v":0.005},{"k":3,"t":0.23,"v":0.03},{"k":3,"t":0.236,"v":0.09},{"k":3,"t":0.243,"v":0.15},{"k":3,"t":0.25,"v":0.1},
{"k":3,"t":0.258,"v":-0.02},{"k":3,"t":0.266,"v":-0.14},{"k":3,"t":0.274,"v":-0.27},{"k":3,"t":0.281,"v":-0.24},{"k":3,"t":0.288,"v":-0.1},{"k":3,"t":0.295,"v":0.0},{"k":3,"t":0.3,"v":0.05},{"k":3,"t":0.31,"v":0.05},{"k":3,"t":0.32,"v":0.05},{"k":3,"t":0.34,"v":0.045},
{"k":3,"t":0.36,"v":0.05},{"k":3,"t":0.375,"v":0.06},{"k":3,"t":0.385,"v":0.06},{"k":3,"t":0.395,"v":0.045},{"k":3,"t":0.41,"v":-0.01},{"k":3,"t":0.425,"v":-0.045},{"k":3,"t":0.44,"v":-0.06},{"k":3,"t":0.455,"v":-0.05},{"k":3,"t":0.47,"v":-0.035},{"k":3,"t":0.49,"v":-0.005},
{"k":3,"t":0.51,"v":0.01},{"k":3,"t":0.53,"v":0.01},{"k":3,"t":0.55,"v":0.015},{"k":3,"t":0.57,"v":0.01},{"k":3,"t":0.585,"v":0.0},{"k":3,"t":0.595,"v":-0.015},{"k":3,"t":0.61,"v":-0.01},{"k":3,"t":0.63,"v":0.0},{"k":3,"t":0.645,"v":0.01},{"k":3,"t":0.655,"v":0.04},
{"k":3,"t":0.662,"v":0.2},{"k":3,"t":0.668,"v":0.35},{"k":3,"t":0.675,"v":0.33},{"k":3,"t":0.682,"v":0.12},{"k":3,"t":0.69,"v":-0.1},{"k":3,"t":0.695,"v":-0.2},{"k":3,"t":0.7,"v":-0.26},{"k":3,"t":0.705,"v":-0.15},{"k":3,"t":0.712,"v":0.0},{"k":3,"t":0.718,"v":0.045},
{"k":3,"t":0.725,"v":0.05},{"k":3,"t":0.735,"v":0.055},{"k":3,"t":0.745,"v":0.05},{"k":3,"t":0.75,"v":0.055}
],
"postD": [
{"k":1,"t":0.005,"v":0.0},{"k":1,"t":0.02,"v":0.005},{"k":1,"t":0.04,"v":0.01},{"k":1,"t":0.06,"v":0.01},{"k":1,"t":0.08,"v":0.01},{"k":1,"t":0.1,"v":0.005},{"k":1,"t":0.12,"v":0.01},{"k":1,"t":0.135,"v":0.005},{"k":1,"t":0.15,"v":0.0},{"k":1,"t":0.165,"v":-0.02},
{"k":1,"t":0.18,"v":-0.01},{"k":1,"t":0.2,"v":0.01},{"k":1,"t":0.215,"v":0.01},{"k":1,"t":0.225,"v":0.03},{"k":1,"t":0.233,"v":0.1},{"k":1,"t":0.243,"v":0.17},{"k":1,"t":0.25,"v":0.12},{"k":1,"t":0.258,"v":-0.02},{"k":1,"t":0.265,"v":-0.18},{"k":1,"t":0.273,"v":-0.31},
{"k":1,"t":0.28,"v":-0.2},{"k":1,"t":0.288,"v":-0.03},{"k":1,"t":0.295,"v":0.05},{"k":1,"t":0.3,"v":0.055},{"k":1,"t":0.31,"v":0.045},{"k":1,"t":0.33,"v":0.04},{"k":1,"t":0.35,"v":0.03},{"k":1,"t":0.37,"v":0.025},{"k":1,"t":0.385,"v":0.04},{"k":1,"t":0.4,"v":0.05},
{"k":1,"t":0.415,"v":0.035},{"k":1,"t":0.43,"v":0.01},{"k":1,"t":0.45,"v":-0.03},{"k":1,"t":0.47,"v":-0.05},{"k":1,"t":0.485,"v":-0.045},{"k":1,"t":0.5,"v":-0.04},{"k":1,"t":0.52,"v":-0.02},{"k":1,"t":0.54,"v":-0.005},{"k":1,"t":0.56,"v":0.005},{"k":1,"t":0.58,"v":0.01},
{"k":1,"t":0.6,"v":0.005},{"k":1,"t":0.62,"v":0.01},{"k":1,"t":0.64,"v":0.005},{"k":1,"t":0.66,"v":0.02},{"k":1,"t":0.675,"v":0.01},{"k":1,"t":0.69,"v":-0.01},{"k":1,"t":0.7,"v":-0.025},{"k":1,"t":0.715,"v":-0.01},{"k":1,"t":0.73,"v":0.005},{"k":1,"t":0.74,"v":0.015},
{"k":1,"t":0.75,"v":0.025},
{"k":2,"t":0.005,"v":0.005},{"k":2,"t":0.02,"v":0.01},{"k":2,"t":0.04,"v":0.015},{"k":2,"t":0.06,"v":0.012},{"k":2,"t":0.08,"v":0.01},{"k":2,"t":0.1,"v":0.01},{"k":2,"t":0.12,"v":0.012},{"k":2,"t":0.135,"v":0.01},{"k":2,"t":0.15,"v":-0.005},{"k":2,"t":0.165,"v":-0.025},
{"k":2,"t":0.18,"v":-0.015},{"k":2,"t":0.2,"v":0.005},{"k":2,"t":0.215,"v":0.01},{"k":2,"t":0.225,"v":0.025},{"k":2,"t":0.233,"v":0.09},{"k":2,"t":0.243,"v":0.16},{"k":2,"t":0.25,"v":0.13},{"k":2,"t":0.258,"v":0.0},{"k":2,"t":0.265,"v":-0.14},{"k":2,"t":0.273,"v":-0.25},
{"k":2,"t":0.28,"v":-0.24},{"k":2,"t":0.288,"v":-0.08},{"k":2,"t":0.295,"v":0.03},{"k":2,"t":0.3,"v":0.05},{"k":2,"t":0.31,"v":0.05},{"k":2,"t":0.33,"v":0.035},{"k":2,"t":0.35,"v":0.03},{"k":2,"t":0.37,"v":0.03},{"k":2,"t":0.385,"v":0.035},{"k":2,"t":0.4,"v":0.045},
{"k":2,"t":0.415,"v":0.04},{"k":2,"t":0.43,"v":0.015},{"k":2,"t":0.45,"v":-0.025},{"k":2,"t":0.47,"v":-0.045},{"k":2,"t":0.485,"v":-0.05},{"k":2,"t":0.5,"v":-0.045},{"k":2,"t":0.52,"v":-0.025},{"k":2,"t":0.54,"v":-0.01},{"k":2,"t":0.56,"v":0.0},{"k":2,"t":0.58,"v":0.005},
{"k":2,"t":0.6,"v":0.01},{"k":2,"t":0.62,"v":0.005},{"k":2,"t":0.64,"v":0.01},{"k":2,"t":0.66,"v":0.015},{"k":2,"t":0.675,"v":0.015},{"k":2,"t":0.69,"v":-0.005},{"k":2,"t":0.7,"v":-0.02},{"k":2,"t":0.715,"v":-0.015},{"k":2,"t":0.73,"v":0.0},{"k":2,"t":0.74,"v":0.01},
{"k":2,"t":0.75,"v":0.02}
]
},
"resolve": {"scale": {"color": "independent"}, "legend": {"color": "independent"}},
"spacing": 12,
"vconcat": [
{
"hconcat": [
{
"width": 429, "height": 210,
"title": {"text": "(a) Pre- and post-exercise ECG cycle", "offset": -1.5},
"encoding": {
  "x": {"field": "t", "type": "quantitative", "scale": {"domain": [0, 0.8], "nice": false, "zero": false}, "axis": {"values": [0, 0.1, 0.2, 0.3, 0.4, 0.5, 0.6, 0.7, 0.8], "format": "~g", "title": "Time (sec)"}},
  "y": {"field": "v", "type": "quantitative", "scale": {"domain": [-0.4, 0.8], "nice": false, "zero": false}, "axis": {"values": [-0.4, -0.2, 0, 0.2, 0.4, 0.6, 0.8], "format": "~g", "title": "Amplitude (V)"}},
  "detail": {"field": "k", "type": "nominal"}
},
"layer": [
  {"data": {"name": "preAC"}, "mark": {"type": "line", "strokeWidth": 2.7, "interpolate": "monotone", "clip": true},
   "encoding": {"color": {"datum": "Pre-exercise ECG", "type": "nominal", "scale": {"domain": ["Pre-exercise ECG", "Post-exercise ECG"], "range": ["#a8a8a8", "#1aa81a"]}, "legend": {"title": null}}}},
  {"data": {"name": "postA"}, "mark": {"type": "line", "strokeWidth": 2.7, "interpolate": "monotone", "clip": true},
   "encoding": {"color": {"datum": "Post-exercise ECG", "type": "nominal"}}}
]
},
{
"width": 422, "height": 210,
"title": {"text": "(b) Pre- and post-exercise, Frequency-nor. ECG cycle", "offset": 2.5},
"encoding": {
  "x": {"field": "t", "type": "quantitative", "scale": {"domain": [0, 0.8], "nice": false, "zero": false}, "axis": {"values": [0, 0.1, 0.2, 0.3, 0.4, 0.5, 0.6, 0.7, 0.8], "format": "~g", "title": "Time (sec)"}},
  "y": {"field": "v", "type": "quantitative", "scale": {"domain": [-0.4, 0.315], "nice": false, "zero": false}, "axis": {"values": [-0.4, -0.2, 0, 0.2], "format": "~g", "title": "Amplitude (V)"}},
  "detail": {"field": "k", "type": "nominal"}
},
"layer": [
  {"data": {"name": "preBD"}, "mark": {"type": "line", "strokeWidth": 2.7, "interpolate": "monotone", "clip": true},
   "encoding": {"color": {"datum": "Frequency(Pre-exercise ECG)", "type": "nominal", "scale": {"domain": ["Frequency(Pre-exercise ECG)", "Frequency(Post-exercise ECG)"], "range": ["#a8a8a8", "#4dbdec"]}, "legend": {"title": null, "offset": 10}}}},
  {"data": {"name": "postB"}, "mark": {"type": "line", "strokeWidth": 2.7, "interpolate": "monotone", "clip": true},
   "encoding": {"color": {"datum": "Frequency(Post-exercise ECG)", "type": "nominal"}}}
]
}
],
"spacing": 76,
"resolve": {"scale": {"color": "independent"}, "legend": {"color": "independent"}}
},
{
"hconcat": [
{
"width": 429, "height": 211,
"title": {"text": "(c) Pre- and post-exercise, Time-nor. ECG cycle", "offset": -0.5},
"encoding": {
  "x": {"field": "t", "type": "quantitative", "scale": {"domain": [0, 0.8], "nice": false, "zero": false}, "axis": {"values": [0, 0.1, 0.2, 0.3, 0.4, 0.5, 0.6, 0.7, 0.8], "format": "~g", "title": "Time (sec)"}},
  "y": {"field": "v", "type": "quantitative", "scale": {"domain": [-0.4, 0.8], "nice": false, "zero": false}, "axis": {"values": [-0.4, -0.2, 0, 0.2, 0.4, 0.6, 0.8], "format": "~g", "title": "Amplitude (V)"}},
  "detail": {"field": "k", "type": "nominal"}
},
"layer": [
  {"data": {"name": "preAC"}, "mark": {"type": "line", "strokeWidth": 2.7, "interpolate": "monotone", "clip": true},
   "encoding": {"color": {"datum": "Pre-exercise ECG", "type": "nominal", "scale": {"domain": ["Pre-exercise ECG", "Time(Post-exercise ECG)"], "range": ["#a8a8a8", "#a8192f"]}, "legend": {"title": null, "labelOffset": 22}}}},
  {"data": {"name": "postC"}, "mark": {"type": "line", "strokeWidth": 2.7, "interpolate": "monotone", "clip": true},
   "encoding": {"color": {"datum": "Time(Post-exercise ECG)", "type": "nominal"}}}
]
},
{
"width": 422, "height": 209,
"title": {"text": "(d) Pre- and post-exercise, Fusion-nor. ECG cycle", "offset": 6.5},
"encoding": {
  "x": {"field": "t", "type": "quantitative", "scale": {"domain": [0, 0.8], "nice": false, "zero": false}, "axis": {"values": [0, 0.1, 0.2, 0.3, 0.4, 0.5, 0.6, 0.7, 0.8], "format": "~g", "title": "Time (sec)"}},
  "y": {"field": "v", "type": "quantitative", "scale": {"domain": [-0.4, 0.309], "nice": false, "zero": false}, "axis": {"values": [-0.4, -0.2, 0, 0.2], "format": "~g", "title": "Amplitude (V)"}},
  "detail": {"field": "k", "type": "nominal"}
},
"layer": [
  {"data": {"name": "preBD"}, "mark": {"type": "line", "strokeWidth": 2.7, "interpolate": "monotone", "clip": true},
   "encoding": {"color": {"datum": "Fusion(Pre-exercise ECG)", "type": "nominal", "scale": {"domain": ["Fusion(Pre-exercise ECG)", "Fusion(Post-exercise ECG)"], "range": ["#a8a8a8", "#7e2c92"]}, "legend": {"title": null}}}},
  {"data": {"name": "postD"}, "mark": {"type": "line", "strokeWidth": 2.7, "interpolate": "monotone", "clip": true},
   "encoding": {"color": {"datum": "Fusion(Post-exercise ECG)", "type": "nominal"}}}
]
}
],
"spacing": 76,
"resolve": {"scale": {"color": "independent"}, "legend": {"color": "independent"}}
}
]
}
